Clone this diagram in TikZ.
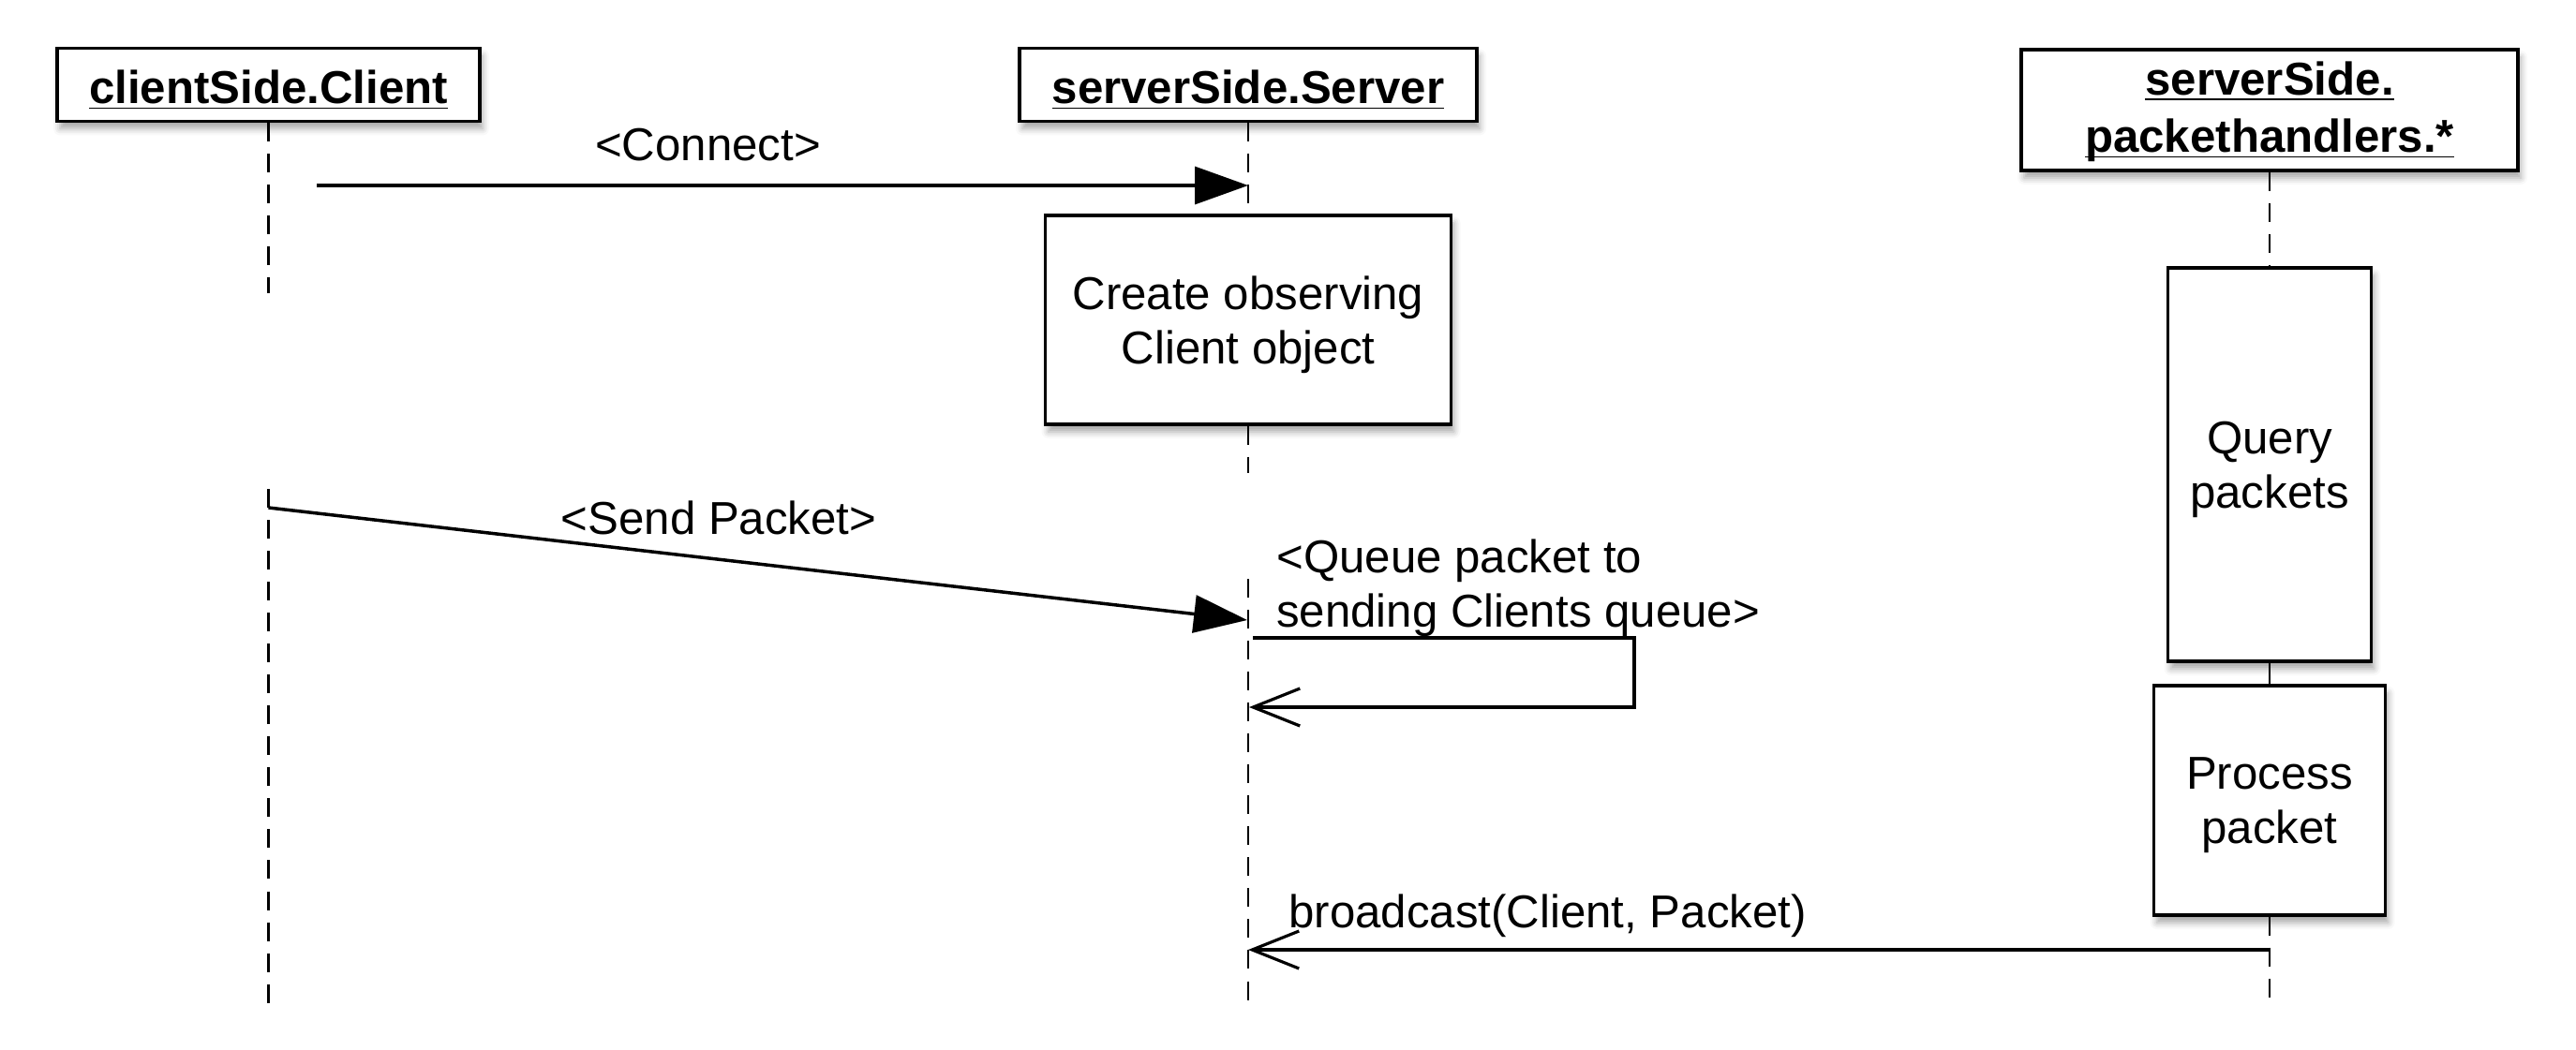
\documentclass[tikz,border=0pt]{standalone}
\usepackage{fontspec}
\setmainfont{Liberation Sans}
\usepackage{tikz}
\usetikzlibrary{arrows.meta, positioning, shadows.blur}

\newcommand{\hdul}[1]{\underline{\raisebox{0pt}[\height][0pt]{#1}}}

\begin{document}
\begin{tikzpicture}[font=\fontsize{14}{16.5}\selectfont,
  boxshadow/.style={blur shadow={shadow xshift=0.3mm, shadow yshift=-0.8mm, shadow blur radius=0.7mm, shadow opacity=35}},
  head/.style={draw, line width=0.9pt, fill=white, boxshadow, align=center, execute at begin node={\rule{0pt}{13.5pt}}, font=\fontsize{14}{17.5}\selectfont\bfseries},
  act/.style={draw, line width=0.9pt, fill=white, boxshadow, align=center, text depth=-1pt},
  life/.style={line width=0.8pt, dash pattern=on 5.7pt off 3.7pt},
  msg/.style={line width=1pt, -{Triangle[length=5.7mm, width=4mm]}},
  reply/.style={line width=0.9pt, -{Straight Barb[length=5mm, width=4mm, line width=0.9pt]}}]
  \useasboundingbox (0,0) rectangle (27.49,-11.2);

  % lifeline heads
  \node[head, minimum width=4.51cm, minimum height=0.75cm] (client) at (2.865,-0.905) {\hdul{clientSide.Client}};
  \node[head, minimum width=4.88cm, minimum height=0.75cm] (server) at (13.32,-0.905) {\hdul{serverSide.Server}};
  \node[head, minimum width=5.3cm, minimum height=1.29cm] (handlers) at (24.22,-1.175) {\hdul{serverSide.}\\\hdul{packethandlers.*}};

  % activations
  \node[act, minimum width=4.33cm, minimum height=2.23cm] (create) at (13.32,-3.415) {Create observing\\Client object};
  \node[act, minimum width=2.17cm, minimum height=4.2cm] (query) at (24.22,-4.96) {Query\\packets};
  \node[act, minimum width=2.47cm, minimum height=2.45cm] (process) at (24.22,-8.545) {Process\\packet};

  % lifeline ends
  \coordinate (cEnd) at (2.865,-3.13);
  \coordinate (cTop) at (2.865,-5.22);
  \coordinate (cBot) at (2.865,-10.72);
  \coordinate (sEnd) at (13.32,-5.05);
  \coordinate (sTop) at (13.32,-6.18);
  \coordinate (sBot) at (13.32,-10.72);
  \coordinate (hBot) at (24.22,-10.67);

  \draw[life] (client.south) -- (cEnd);
  \draw[life] (cTop) -- (cBot);
  \draw[life] (server.south) -- (create.north);
  \draw[life] (create.south) -- (sEnd);
  \draw[life] (sTop) -- (sBot);
  \draw[life] (handlers.south) -- (query.north);
  \draw[line width=0.8pt] (query.south) -- (process.north);
  \draw[life] (process.south) -- (hBot);

  % messages
  \coordinate (conA) at (3.38,-1.98);
  \coordinate (conB) at (server |- conA);
  \coordinate (sendA) at (2.865,-5.42);
  \coordinate (sendB) at (13.31,-6.62);
  \coordinate (qA) at (13.37,-6.81);
  \coordinate (qB) at (17.44,-6.81);
  \coordinate (qC) at (17.44,-7.55);
  \coordinate (qD) at (13.33,-7.55);
  \coordinate (bA) at (24.22,-10.14);
  \coordinate (bB) at (server |- bA);

  \draw[msg] (conA) -- node[above=3.5pt, pos=0.42] {<Connect>} (conB);
  \draw[msg] (sendA) -- node[above=3.5pt, pos=0.46] {<Send Packet>} (sendB);
  \draw[reply] (qA) -- node[pos=0, above right, align=left, xshift=0.12cm, yshift=-0.12cm] {<Queue packet to\\sending Clients queue>} (qB) -- (qC) -- (qD);
  \draw[reply] (bA) -- node[pos=1, above right, xshift=0.3cm] {broadcast(Client, Packet)} (bB);
\end{tikzpicture}
\end{document}
